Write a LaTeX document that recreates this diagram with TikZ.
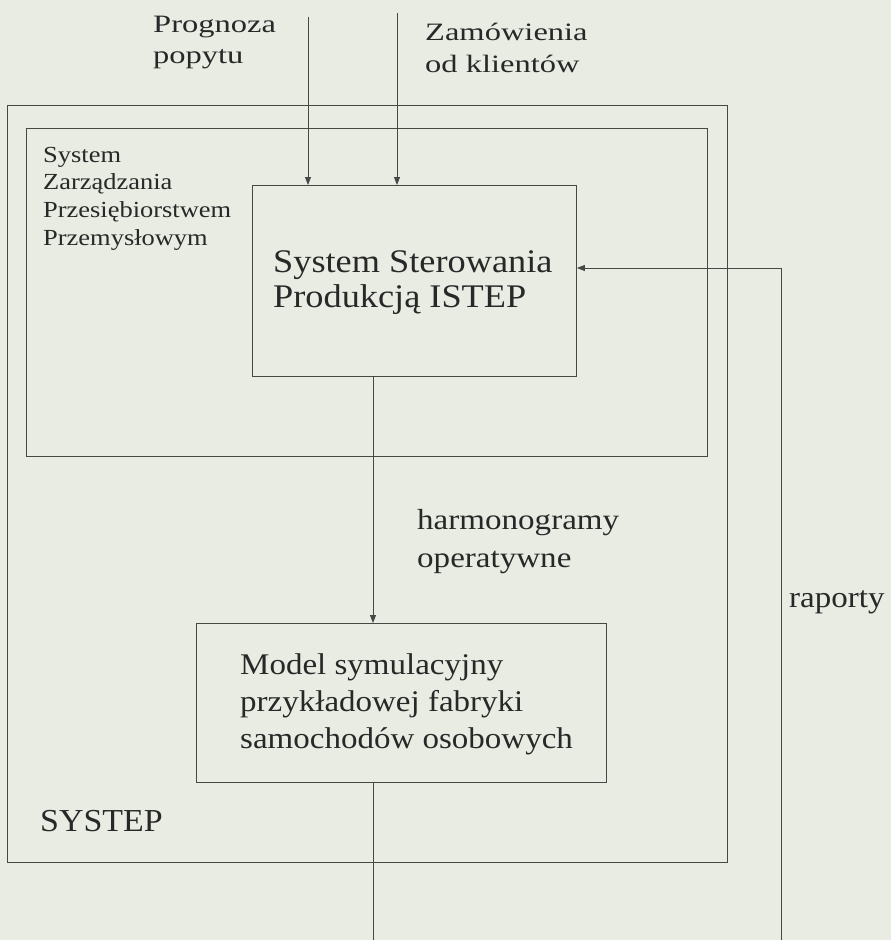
\documentclass[tikz,border=0pt]{standalone}
\usepackage{fontspec}
\usepackage{graphicx}
\setmainfont{Liberation Serif}
\usetikzlibrary{arrows.meta}
\definecolor{bgc}{RGB}{233,236,227}
\definecolor{linec}{RGB}{70,72,70}
\definecolor{txtc}{RGB}{40,40,40}
\newcommand\sxt[2]{\scalebox{#1}[1]{\begin{tabular}[t]{@{}l@{}}#2\end{tabular}}}
\begin{document}
\begin{tikzpicture}[x=1pt,y=-1pt,
  box/.style={draw=linec, line width=0.9pt, inner sep=0pt, anchor=north west},
  lbl/.style={text=txtc, inner sep=0pt, anchor=base west},
  flow/.style={draw=linec, line width=0.8pt, -{Triangle[length=8pt,width=6pt]}},
  plain/.style={draw=linec, line width=0.8pt}]
\useasboundingbox (0,0) rectangle (891,940);
\fill[bgc] (0,0) rectangle (891,940);

% boxes
\node[box, minimum width=720pt, minimum height=757pt] (systep) at (7,105) {};
\node[box, minimum width=681pt, minimum height=328pt] (szpp) at (26,128) {};
\node[box, minimum width=324pt, minimum height=191pt] (istep) at (252,185) {};
\node[box, minimum width=410pt, minimum height=159pt] (model) at (196,623) {};

% texts
\node[lbl, font=\fontsize{25}{31.5}\selectfont] (prog) at (153,32) {\sxt{1.3}{Prognoza\\popytu}};
\node[lbl, font=\fontsize{25}{32.5}\selectfont] (zam) at (425,40) {\sxt{1.3}{Zamówienia\\od klientów}};
\node[lbl, font=\fontsize{23}{27.7}\selectfont] (szpptxt) at (43,162) {\sxt{1.15}{System\\Zarządzania\\Przesiębiorstwem\\Przemysłowym}};
\node[lbl, font=\fontsize{33}{35.7}\selectfont] (isteptxt) at (273,272) {\sxt{1.1}{System Sterowania\\Produkcją ISTEP}};
\node[lbl, font=\fontsize{29}{38}\selectfont] (harm) at (417,529) {\sxt{1.14}{harmonogramy\\operatywne}};
\node[lbl, font=\fontsize{30}{36}\selectfont] (rap) at (789,607) {\sxt{1.1}{raporty}};
\node[lbl, font=\fontsize{30}{37}\selectfont] (modeltxt) at (240,674) {\sxt{1.1}{Model symulacyjny\\przykładowej fabryki\\samochodów osobowych}};
\node[lbl, font=\fontsize{32}{36}\selectfont] (systeptxt) at (40,831) {\sxt{1.06}{SYSTEP}};

% connectors
\coordinate (progtop) at (308,17);
\coordinate (zamtop) at (397,13);
\coordinate (hx) at (373,0);
\coordinate (botmid) at (373,940);
\coordinate (rbot) at (781,940);
\coordinate (ry) at (0,268);

\draw[flow] (progtop) -- (progtop |- istep.north);
\draw[flow] (zamtop) -- (zamtop |- istep.north);
\draw[flow] (istep.south -| hx) -- (model.north -| hx);
\draw[plain] (model.south -| hx) -- (botmid);
\draw[flow] (rbot) -- (rbot |- ry) -- (istep.east |- ry);
\end{tikzpicture}
\end{document}
